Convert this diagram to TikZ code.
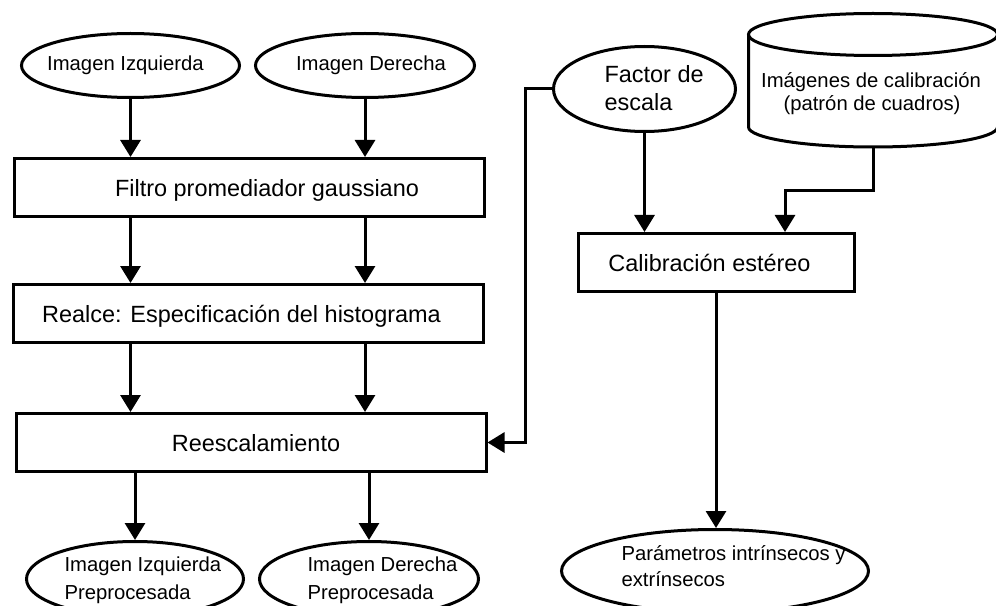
\documentclass[tikz,border=0pt]{standalone}
\usepackage{fontspec}
\setmainfont{Liberation Sans}
\usetikzlibrary{arrows.meta,shapes.geometric}
\newcommand{\pxu}{0.75pt}
\begin{document}
\begin{tikzpicture}[x=0.75pt,y=0.75pt,
  line width=2.25pt,
  procbox/.style={draw, rectangle, inner sep=0pt, minimum width=470*\pxu, minimum height=58*\pxu},
  termell/.style={draw, ellipse, inner sep=0pt},
  smalltxt/.style={inner sep=0pt, font=\fontsize{15.2}{18}\selectfont},
  bigtxt/.style={inner sep=0pt, font=\fontsize{17.6}{21}\selectfont},
  flow/.style={-{Triangle[length=12.75pt,width=15pt]}}
]
\useasboundingbox (0,0) rectangle (996,-606);

% input images
\node[termell, minimum width=218*\pxu, minimum height=64*\pxu] (imgL) at (130.5,-65.5) {};
\node[smalltxt, anchor=base] (tImgL) at (125.5,-71) {Imagen Izquierda};
\node[termell, minimum width=219*\pxu, minimum height=64*\pxu] (imgR) at (365,-65.5) {};
\node[smalltxt, anchor=base] (tImgR) at (371,-71) {Imagen Derecha};

% preprocessing chain
\node[procbox] (filtro) at (249.5,-187.5) {};
\node[bigtxt, anchor=base] (tFiltro) at (267,-197) {Filtro promediador gaussiano};
\node[procbox] (realce) at (248,-313.5) {};
\node[bigtxt, anchor=base] (tRealce) at (241.5,-322) {Realce: Especificación del histograma};
\node[procbox] (reesc) at (251,-442.5) {};
\node[bigtxt, anchor=base] (tReesc) at (256,-451) {Reescalamiento};

% outputs of the preprocessing
\node[termell, minimum width=217*\pxu, minimum height=75*\pxu] (outL) at (135,-579) {};
\node[smalltxt, anchor=base west] (tOutL1) at (63,-571) {Imagen Izquierda};
\node[smalltxt, anchor=base west] (tOutL2) at (63,-599) {Preprocesada};
\node[termell, minimum width=219*\pxu, minimum height=75*\pxu] (outR) at (369,-579) {};
\node[smalltxt, anchor=base west] (tOutR1) at (306,-571) {Imagen Derecha};
\node[smalltxt, anchor=base west] (tOutR2) at (306,-599) {Preprocesada};

% scale factor
\node[termell, minimum width=182*\pxu, minimum height=85*\pxu] (factor) at (644.5,-89) {};
\node[bigtxt, anchor=base west] (tFactor1) at (603,-82.5) {Factor de};
\node[bigtxt, anchor=base west] (tFactor2) at (603,-111) {escala};

% calibration images (stored data cylinder)
\draw (873,-34.5) ellipse [x radius=124.5, y radius=21];
\draw (748.5,-34.5) -- (748.5,-127)
      arc[start angle=180, end angle=360, x radius=124.5, y radius=20]
      -- (997.5,-34.5);
\coordinate (cylbase) at (873,-147);
\node[smalltxt, anchor=base] (tCyl1) at (871,-88) {Imágenes de calibración};
\node[smalltxt, anchor=base] (tCyl2) at (872,-111) {(patrón de cuadros)};

% stereo calibration
\node[draw, rectangle, inner sep=0pt, minimum width=276*\pxu, minimum height=58*\pxu] (calib) at (716,-262.5) {};
\node[bigtxt, anchor=base] (tCalib) at (709.5,-271) {Calibración estéreo};

% calibration result
\node[termell, minimum width=307*\pxu, minimum height=83*\pxu] (param) at (715,-571) {};
\node[smalltxt, anchor=base west] (tParam1) at (620,-560) {Parámetros intrínsecos y};
\node[smalltxt, anchor=base west] (tParam2) at (620,-586) {extrínsecos};

% connectors
\draw[flow] (imgL.south) -- (imgL.south |- filtro.north);
\draw[flow] (imgR.south) -- (imgR.south |- filtro.north);
\draw[flow] (filtro.south -| imgL.south) -- (realce.north -| imgL.south);
\draw[flow] (filtro.south -| imgR.south) -- (realce.north -| imgR.south);
\draw[flow] (realce.south -| imgL.south) -- (reesc.north -| imgL.south);
\draw[flow] (realce.south -| imgR.south) -- (reesc.north -| imgR.south);
\draw[flow] (reesc.south -| outL.north) -- (outL.north);
\draw[flow] (reesc.south -| outR.north) -- (outR.north);
\draw[flow] (factor.west) -- ++(-27,0) |- (reesc.east);
\draw[flow] (factor.south) -- (factor.south |- calib.north);
\coordinate (cylturn) at (785,-191);
\draw[flow] (cylbase) |- (cylturn) -- (cylturn |- calib.north);
\draw[flow] (calib.south) -- (calib.south |- param.north);
\end{tikzpicture}
\end{document}
